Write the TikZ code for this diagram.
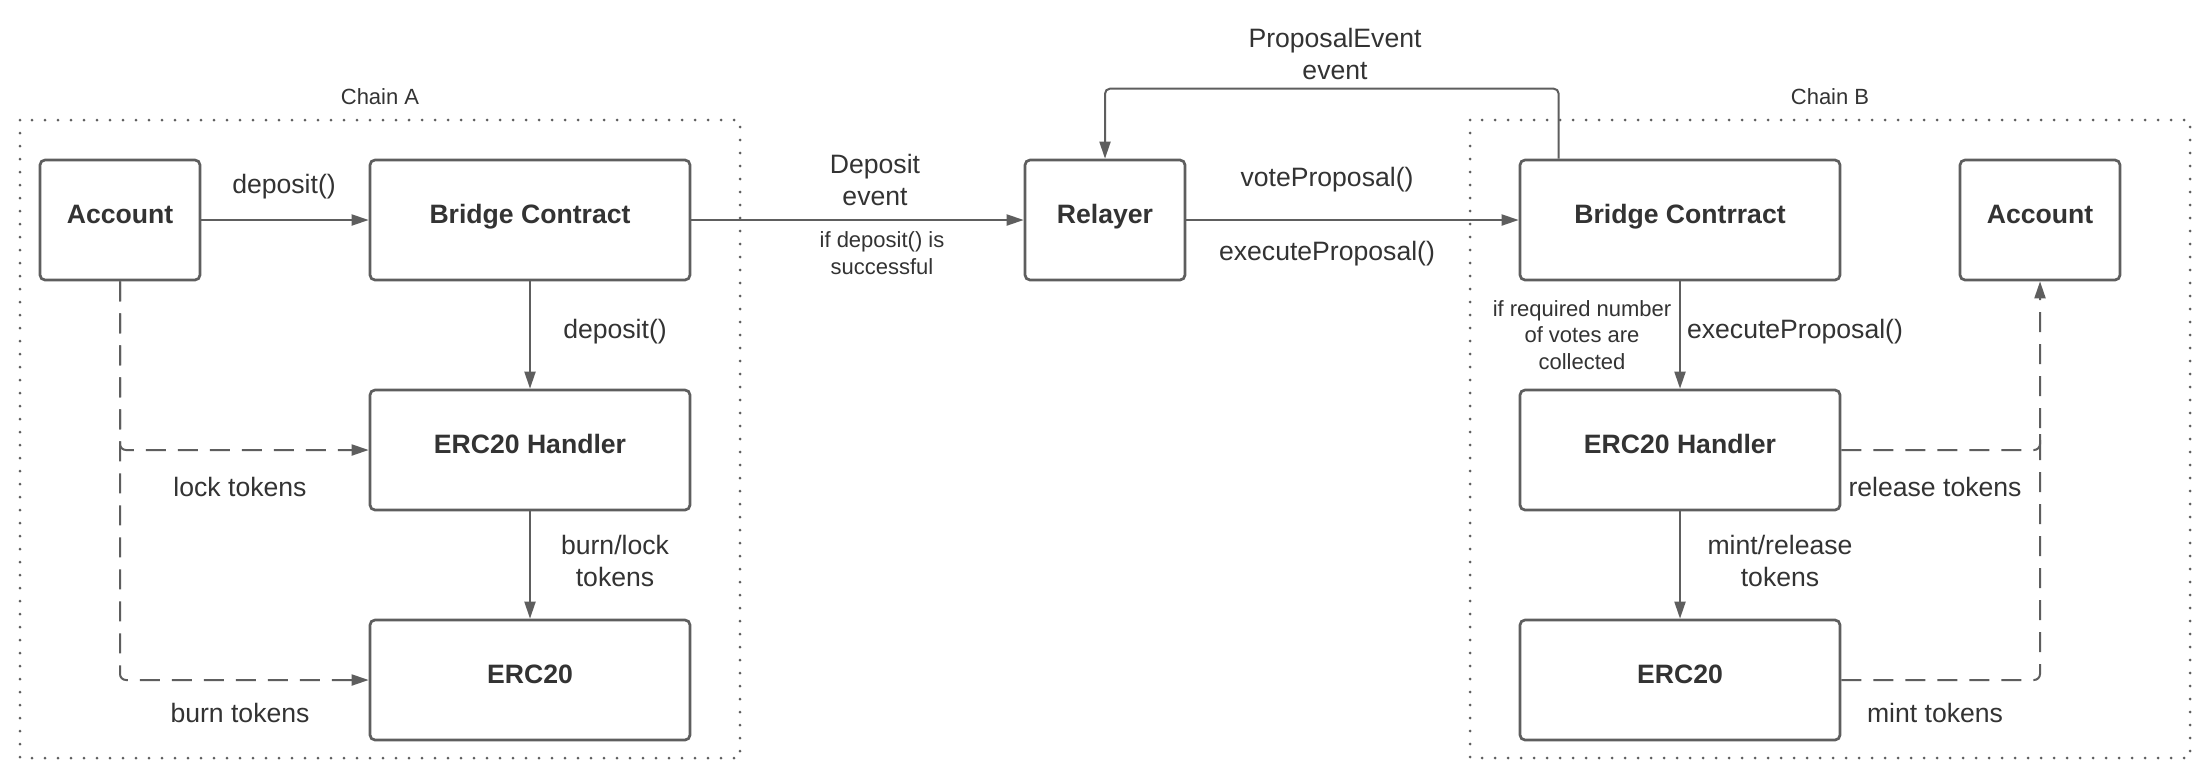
\documentclass[tikz,border=0pt]{standalone}
\usepackage{fontspec}
\setmainfont{Liberation Sans}
\usetikzlibrary{arrows.meta}
\definecolor{ln}{HTML}{5E5E5E}
\definecolor{tx}{HTML}{333333}
\begin{document}
\begin{tikzpicture}[x=1pt,y=-1pt,
  box/.style={draw=ln, line width=2.7pt, rounded corners=5pt, minimum width=#1, minimum height=120pt, inner sep=0pt, text height=19pt, text depth=12pt, text=tx, font=\fontsize{26.6}{32}\selectfont\bfseries},
  box/.default=320pt,
  frame/.style={draw=ln, line width=3pt, line cap=round, dash pattern=on 0pt off 13pt},
  tipend/.style={-{Triangle[length=17pt,width=11pt]}},
  tipstart/.style={{Triangle[length=17pt,width=11pt]}-},
  conn/.style={draw=ln, line width=2pt, rounded corners=5pt},
  dsh/.style={draw=ln, line width=2pt, dash pattern=on 20pt off 12pt, rounded corners=6pt},
  lbl/.style={text=tx, font=\fontsize{26.6}{32}\selectfont, align=center, inner sep=0pt},
  slbl/.style={text=tx, font=\fontsize{22}{26.5}\selectfont, align=center, inner sep=0pt}
]
\useasboundingbox (0,0) rectangle (2210,780);
\fill[white] (0,0) rectangle (2210,780);

% frames
\draw[frame] (20,120) rectangle (740,758);
\draw[frame] (1470,120) rectangle (2190,758);
\node[slbl] (chainA) at (380,97) {Chain A};
\node[slbl] (chainB) at (1830,97) {Chain B};

% chain A boxes
\node[box=160pt] (accA) at (120,220) {Account};
\node[box] (bridgeA) at (530,220) {Bridge Contract};
\node[box] (handlerA) at (530,450) {ERC20 Handler};
\node[box] (ercA) at (530,680) {ERC20};

% relayer
\node[box=160pt] (relayer) at (1105,220) {Relayer};

% chain B boxes
\node[box] (bridgeB) at (1680,220) {Bridge Contrract};
\node[box=160pt] (accB) at (2040,220) {Account};
\node[box] (handlerB) at (1680,450) {ERC20 Handler};
\node[box] (ercB) at (1680,680) {ERC20};

% chain A connectors
\draw[conn, tipend] (accA.east) -- (bridgeA.west);
\node[lbl] (l1) at (284,187) {deposit()};
\draw[conn, tipend] (bridgeA.south) -- (handlerA.north);
\node[lbl] (l2) at (615,332) {deposit()};
\draw[conn, tipend] (handlerA.south) -- (ercA.north);
\node[lbl] (l3) at (615,561) {burn/lock\\tokens};
\draw[dsh, tipend] (accA.south) |- (handlerA.west);
\draw[dsh, tipend] (accA.south) |- (ercA.west);
\node[lbl] (l4) at (240,487) {lock tokens};
\node[lbl] (l5) at (240,713) {burn tokens};

% cross-chain
\draw[conn, tipend] (bridgeA.east) -- (relayer.west);
\node[lbl] (l6) at (875,180) {Deposit\\event};
\node[slbl] (l7) at (882,253) {if deposit() is\\successful};
\draw[conn, tipend] (relayer.east) -- (bridgeB.west);
\node[lbl] (l8) at (1327,180) {voteProposal()};
\node[lbl] (l9) at (1327,254) {executeProposal()};
\draw[conn, tipend] ([xshift=40pt]bridgeB.north west) -- ++(0,-70) -| (relayer.north);
\node[lbl] (l10) at (1335,54) {ProposalEvent\\event};

% chain B connectors
\draw[conn, tipend] (bridgeB.south) -- (handlerB.north);
\node[slbl] (l11) at (1582,335) {if required number\\of votes are\\collected};
\node[lbl] (l12) at (1795,332) {executeProposal()};
\draw[conn, tipend] (handlerB.south) -- (ercB.north);
\node[lbl] (l13) at (1780,561) {mint/release\\tokens};
\coordinate (jB) at (2040,430);
\draw[dsh, tipend] (ercB.east) -| (accB.south);
\draw[dsh] (handlerB.east) -| (jB);
\node[lbl] (l14) at (1935,487) {release tokens};
\node[lbl] (l15) at (1935,713) {mint tokens};
\end{tikzpicture}
\end{document}
